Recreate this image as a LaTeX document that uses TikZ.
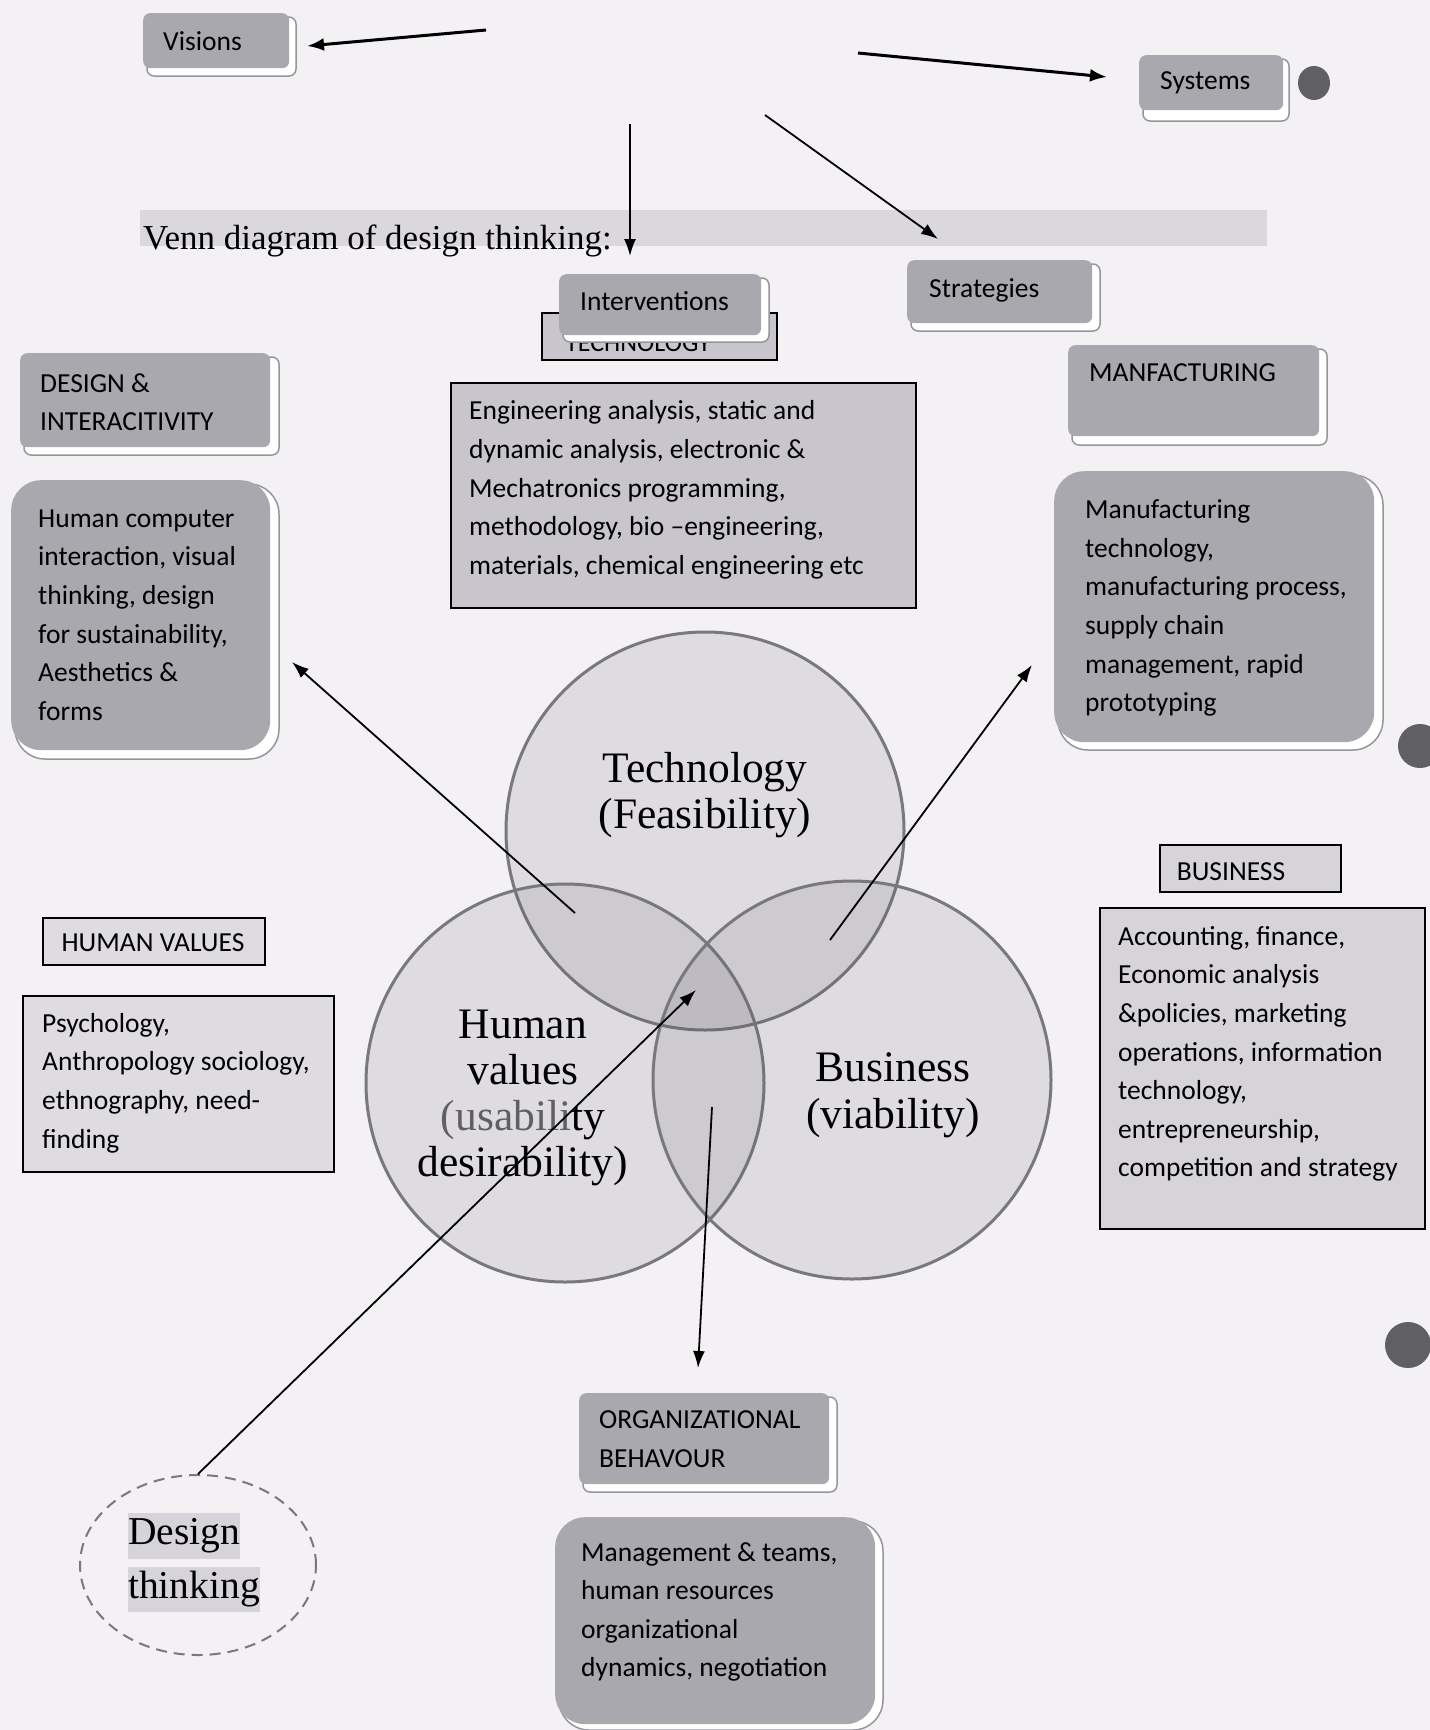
\documentclass[tikz,border=0pt]{standalone}
\usepackage{fontspec}
\setmainfont{Liberation Serif}
\newfontfamily\boxfont{Carlito}
\usetikzlibrary{arrows.meta,shapes.geometric}
\definecolor{bgc}{RGB}{243,241,244}
\definecolor{boxgray}{RGB}{169,168,174}
\definecolor{bevelline}{RGB}{150,149,154}
\definecolor{techfill}{RGB}{200,198,204}
\definecolor{bizfill}{RGB}{214,212,217}
\definecolor{hvfill}{RGB}{222,220,225}
\definecolor{bandfill}{RGB}{218,216,221}
\definecolor{circfill}{RGB}{90,85,100}
\definecolor{circline}{RGB}{120,120,125}
\definecolor{holec}{RGB}{95,95,100}
\definecolor{hlc}{RGB}{214,212,218}
\tikzset{
  gbox/.style={fill=boxgray, rounded corners=7pt, inner sep=0, anchor=north west},
  cbox/.style={fill=boxgray, rounded corners=30pt, inner sep=0, anchor=north west},
  bevel/.style={fill=white, draw=bevelline, line width=1.5pt, rounded corners=7pt},
  cbevel/.style={fill=white, draw=bevelline, line width=1.5pt, rounded corners=30pt},
  kbox/.style={draw=black, line width=1.8pt, inner sep=0, anchor=north west},
  btext/.style={font=\boxfont\fontsize{27.5}{38.6}\selectfont, align=left, inner sep=0, anchor=west, text=black},
  ctext/.style={font=\fontsize{43.5}{45.5}\selectfont, align=center, inner sep=0, text=black},
  venn/.style={circle, minimum size=398pt, inner sep=0, draw=circline, line width=3pt, fill=circfill, fill opacity=0.13, draw opacity=1},
  thinarrow/.style={line width=1.8pt, -{Latex[length=17pt,width=12pt]}},
  thickarrow/.style={line width=3pt, -{Latex[length=17pt,width=13pt]}},
}
\begin{document}
\begin{tikzpicture}[x=1pt,y=-1pt]
\useasboundingbox (0,0) rectangle (1430,1730);
\fill[bgc] (0,0) rectangle (1430,1730);

% punch holes
\fill[holec] (1314,83) ellipse [x radius=16, y radius=17];
\fill[holec] (1420,746) circle [radius=22];
\fill[holec] (1408,1345) circle [radius=23];

% title band
\fill[bandfill] (140,210) rectangle (1267,246);
\node[font=\fontsize{35}{40}\selectfont, anchor=base west, inner sep=0] (title) at (143,249) {Venn diagram of design thinking:};

% Visions
\draw[bevel] (147,17) rectangle (296,76);
\node[gbox, minimum width=146pt, minimum height=55pt] (visions) at (143,13) {};
\node[btext] (visionst) at (163,41) {Visions};

% Systems
\draw[bevel] (1143,59) rectangle (1289,121);
\node[gbox, minimum width=144pt, minimum height=55pt] (systems) at (1139,55) {};
\node[btext] (systemst) at (1160,83) {Systems};

% TECHNOLOGY label (partly hidden)
\node[kbox, fill=techfill, minimum width=235pt, minimum height=47pt] (techlab) at (541,312) {};
\node[font=\boxfont\fontsize{26}{30}\selectfont, anchor=base, inner sep=0] (techlabt) at (638,351) {TECHNOLOGY};

% Interventions
\draw[bevel] (563,278) rectangle (769,342);
\node[gbox, minimum width=202pt, minimum height=61pt] (interv) at (559,274) {};
\node[btext] (intervt) at (580,301) {Interventions};

% Strategies
\draw[bevel] (911,264) rectangle (1100,331);
\node[gbox, minimum width=185pt, minimum height=63pt] (strat) at (907,260) {};
\node[btext] (stratt) at (929,290) {Strategies};

% Design & interactivity
\draw[bevel] (24,357) rectangle (279,455);
\node[gbox, minimum width=250pt, minimum height=94pt] (design) at (20,353) {};
\node[btext] (designt) at (40,402) {DESIGN \&\\INTERACITIVITY};

\draw[cbevel] (15,484) rectangle (279,759);
\node[cbox, minimum width=259pt, minimum height=270pt] (hci) at (11,480) {};
\node[btext] (hcit) at (38,615) {Human computer\\interaction, visual\\thinking, design\\for sustainability,\\Aesthetics \&\\forms};

% Technology content
\node[kbox, fill=techfill, minimum width=465pt, minimum height=225pt] (techc) at (450,382) {};
\node[btext] (techct) at (469,490) {Engineering analysis, static and\\dynamic analysis, electronic \&\\Mechatronics programming,\\methodology, bio –engineering,\\materials, chemical engineering etc};

% Manufacturing
\draw[bevel] (1072,349) rectangle (1327,445);
\node[gbox, minimum width=251pt, minimum height=91pt] (manf) at (1068,345) {};
\node[btext] (manft) at (1089,373) {MANFACTURING};

\draw[cbevel] (1058,475) rectangle (1383,750);
\node[cbox, minimum width=320pt, minimum height=271pt] (manc) at (1054,471) {};
\node[btext] (manct) at (1085,608) {Manufacturing\\technology,\\manufacturing process,\\supply chain\\management, rapid\\prototyping};

% Human values
\node[kbox, fill=hvfill, minimum width=222pt, minimum height=47pt] (hv) at (42,917) {};
\node[btext, anchor=center] (hvt) at (153,943) {HUMAN VALUES};
\node[kbox, fill=hvfill, minimum width=311pt, minimum height=176pt] (psy) at (22,995) {};
\node[btext] (psyt) at (42,1083) {Psychology,\\Anthropology sociology,\\ethnography, need-\\finding};

% Business
\node[kbox, fill=bizfill, minimum width=181pt, minimum height=47pt] (biz) at (1159,844) {};
\node[btext, anchor=center] (bizt) at (1231,872) {BUSINESS};
\node[kbox, fill=bizfill, minimum width=325pt, minimum height=321pt] (bizc) at (1099,907) {};
\node[btext] (bizct) at (1118,1054) {Accounting, finance,\\Economic analysis\\\&policies, marketing\\operations, information\\technology,\\entrepreneurship,\\competition and strategy};

% Organizational behaviour
\draw[bevel] (583,1397) rectangle (837,1492);
\node[gbox, minimum width=250pt, minimum height=91pt] (org) at (579,1393) {};
\node[btext] (orgt) at (599,1439) {ORGANIZATIONAL\\BEHAVOUR};

\draw[cbevel] (559,1521) rectangle (883,1730);
\node[cbox, minimum width=320pt, minimum height=207pt] (mgmt) at (555,1517) {};
\node[btext] (mgmtt) at (581,1612) {Management \& teams,\\human resources\\organizational\\dynamics, negotiation};

% Venn circles
\node[venn] (ctech) at (705,831) {};
\node[venn] (chum) at (565,1083) {};
\node[venn] (cbiz) at (852,1080) {};
\node[ctext] (ctecht) at (705,795) {Technology\\(Feasibility)};
\node[ctext, font=\fontsize{43.5}{46}\selectfont] (chumt) at (523,1098) {Human\\values\\{\color[RGB]{95,95,100}(usabili}ty\\desirability)};
\node[ctext, font=\fontsize{43.5}{47}\selectfont] (cbizt) at (893,1095) {Business\\(viability)};

% Design thinking
\node[ellipse, draw=circline, dashed, dash pattern=on 11pt off 7pt, line width=2pt, minimum width=236pt, minimum height=180pt, inner sep=0] (dt) at (198,1565) {};
\node[fill=hlc, inner sep=0, minimum height=46pt, anchor=west, font=\fontsize{39.5}{42}\selectfont] (dt1) at (128,1536) {Design};
\node[fill=hlc, inner sep=0, minimum height=45pt, anchor=west, font=\fontsize{39.5}{42}\selectfont] (dt2) at (128,1589) {thinking};

% arrow coordinates
\coordinate (a1s) at (486,30);   \coordinate (a1e) at (307,46);
\coordinate (a2s) at (858,53);   \coordinate (a2e) at (1107,77);
\coordinate (a3s) at (630,124);  \coordinate (a3e) at (630,256);
\coordinate (a4s) at (765,115);  \coordinate (a4e) at (938,239);
\coordinate (a5s) at (575,913);  \coordinate (a5e) at (292,662);
\coordinate (a6s) at (830,940);  \coordinate (a6e) at (1032,665);
\coordinate (a7s) at (712,1107); \coordinate (a7e) at (698,1368);
\coordinate (a8e) at (696,990);

\draw[thickarrow] (a1s) -- (a1e);
\draw[thickarrow] (a2s) -- (a2e);
\draw[thinarrow] (a3s) -- (a3e);
\draw[thinarrow] (a4s) -- (a4e);
\draw[thinarrow] (a5s) -- (a5e);
\draw[thinarrow] (a6s) -- (a6e);
\draw[thinarrow] (a7s) -- (a7e);
\draw[thinarrow] (dt.north) -- (a8e);
\end{tikzpicture}
\end{document}
